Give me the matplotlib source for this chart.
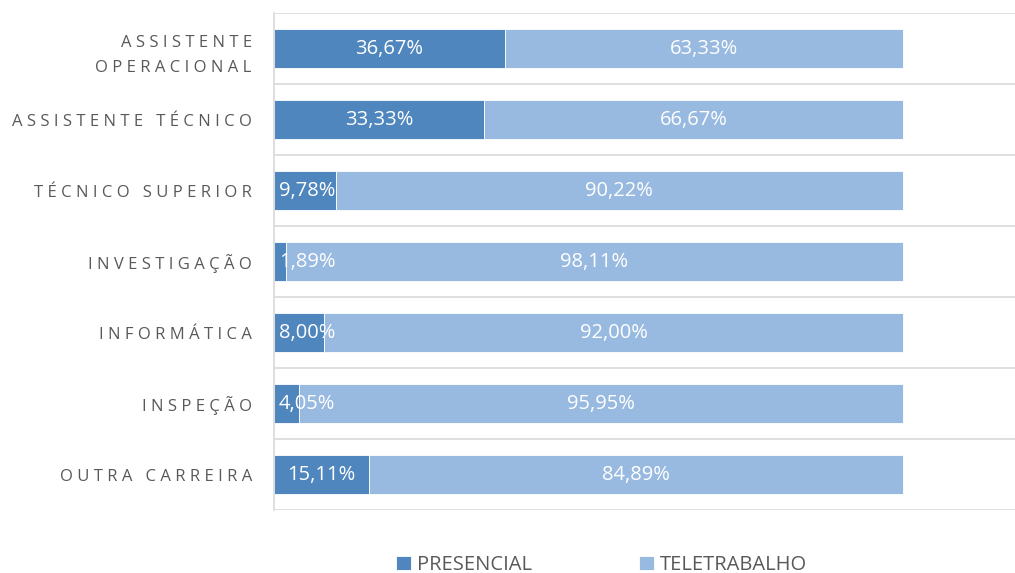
import matplotlib.pyplot as plt
import numpy as np

categorias = ['ASSISTENTE\nOPERACIONAL', 'ASSISTENTE TÉCNICO', 'TÉCNICO SUPERIOR',
              'INVESTIGAÇÃO', 'INFORMÁTICA', 'INSPEÇÃO', 'OUTRA CARREIRA']
presencial = [36.67, 33.33, 9.78, 1.89, 8.00, 4.05, 15.11]
teletrabalho = [63.33, 66.67, 90.22, 98.11, 92.00, 95.95, 84.89]
series = ['PRESENCIAL', 'TELETRABALHO']

cor_pres = '#4F86BD'
cor_tele = '#98B9E0'
cinza = '#595959'

plt.rcParams['font.family'] = ['Open Sans', 'DejaVu Sans']


def espacado(s):
    # imitate letter spacing of the original labels
    return '\n'.join('\u2009\u200a'.join(linha) for linha in s.split('\n'))


fig = plt.figure(figsize=(10.15, 5.73), dpi=100)
# axis runs past the right edge of the image, like the original
ax = fig.add_axes([274 / 1015, 1 - 510 / 573, 1.3 * 629 / 1015, 497 / 573])
ax.set_xlim(0, 130)

y = np.arange(len(categorias))
b1 = ax.barh(y, presencial, height=0.55, color=cor_pres, edgecolor='white', linewidth=0.6, label=series[0])
b2 = ax.barh(y, teletrabalho, left=presencial, height=0.55, color=cor_tele, edgecolor='white', linewidth=0.6, label=series[1])
ax.set_ylim(len(categorias) - 0.5, -0.5)

for i in range(len(categorias)):
    p = presencial[i]
    t = teletrabalho[i]
    txt = f'{p:.2f}%'.replace('.', ',')
    if p < 10:
        ax.text(0.8, i, txt, ha='left', va='center', color='white', fontsize=14.5)
    else:
        ax.text(p / 2, i, txt, ha='center', va='center', color='white', fontsize=14.5)
    ax.text(p + t / 2, i, f'{t:.2f}%'.replace('.', ','), ha='center', va='center', color='white', fontsize=14.5)

ax.set_yticks(y)
ax.set_yticklabels([espacado(c) for c in categorias], fontsize=12, color=cinza, linespacing=1.75)
ax.tick_params(axis='y', length=0, pad=16)
ax.set_xticks([])
ax.set_yticks(np.arange(len(categorias) + 1) - 0.5, minor=True)
ax.tick_params(axis='y', which='minor', length=0)
ax.grid(axis='y', which='minor', color='#D9D9D9', linewidth=1.2)
ax.set_axisbelow(True)
for s in ['top', 'right', 'bottom']:
    ax.spines[s].set_visible(False)
ax.spines['left'].set_color('#D9D9D9')
ax.spines['left'].set_linewidth(1.2)

fig.legend(handles=[b1, b2], loc='lower center', bbox_to_anchor=(0.593, -0.035), ncol=2,
           frameon=False, fontsize=14.5, labelcolor=cinza, handlelength=0.75, handleheight=0.75,
           handletextpad=0.3, columnspacing=5.3)

fig.savefig('out.png', dpi=100)
